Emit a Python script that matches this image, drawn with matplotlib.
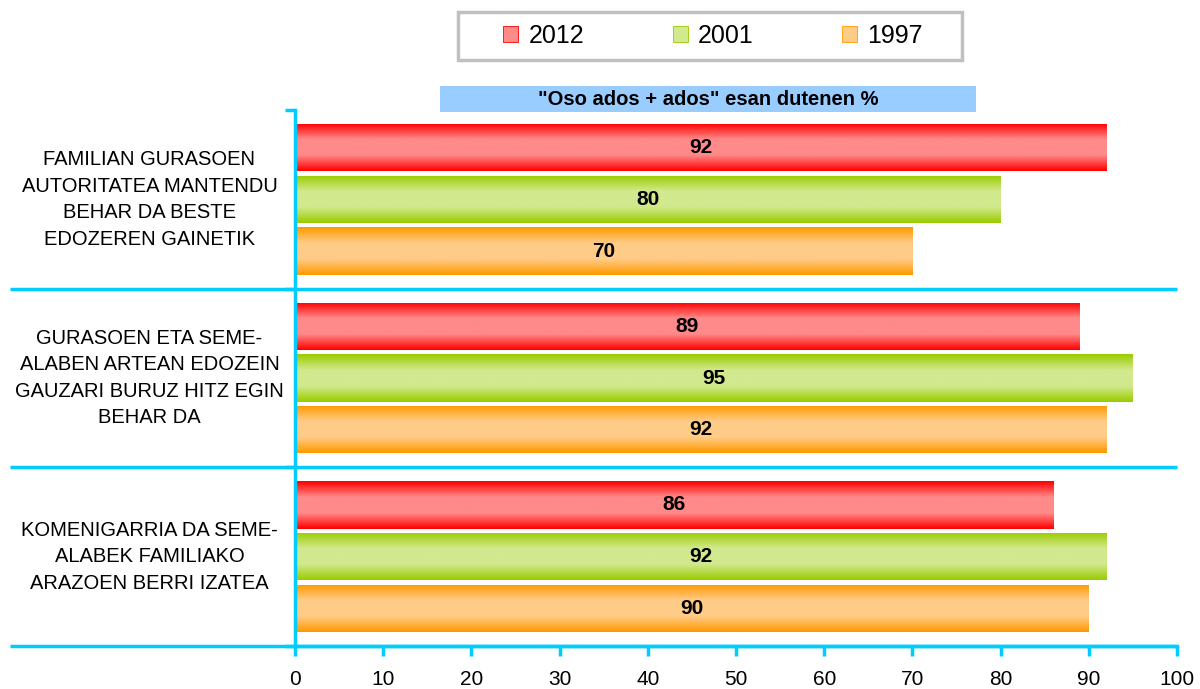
import numpy as np
import matplotlib
matplotlib.use('Agg')
from matplotlib import pyplot as plt
from matplotlib.patches import Patch, Rectangle
from matplotlib.colors import LinearSegmentedColormap

plt.rcParams['font.family'] = ['Liberation Sans', 'DejaVu Sans']

categories = [
    'FAMILIAN GURASOEN\nAUTORITATEA MANTENDU\nBEHAR DA BESTE\nEDOZEREN GAINETIK',
    'GURASOEN ETA SEME-\nALABEN ARTEAN EDOZEIN\nGAUZARI BURUZ HITZ EGIN\nBEHAR DA',
    'KOMENIGARRIA DA SEME-\nALABEK FAMILIAKO\nARAZOEN BERRI IZATEA',
]
years = ['2012', '2001', '1997']
values_2012 = [92, 89, 86]
values_2001 = [80, 95, 92]
values_1997 = [70, 92, 90]
series = [values_2012, values_2001, values_1997]
title_text = '"Oso ados + ados" esan dutenen %'

# edge colour, centre colour for the gradient bars
colors = [('#FF0000', '#FF8A8A'), ('#99CC00', '#D2E98E'), ('#FF9900', '#FFCC88')]
axis_color = '#00CCFF'

fig = plt.figure(figsize=(12, 6.89), dpi=100)
ax = fig.add_axes([295 / 1200, 1 - 646 / 689, 882 / 1200, 536 / 689])

y = np.arange(len(categories))
offsets = [-0.29, 0.0, 0.29]
bar_h = 0.265

for vals, off, (edge, mid), year in zip(series, offsets, colors, years):
    bars = ax.barh(y + off, vals, height=bar_h, color='none', edgecolor='none', label=year)
    cmap = LinearSegmentedColormap.from_list('g', [edge, mid, mid, edge])
    grad = np.linspace(0, 1, 100).reshape(-1, 1)
    for b, v in zip(bars, vals):
        x0, y0 = b.get_x(), b.get_y()
        w, h = b.get_width(), b.get_height()
        im = ax.imshow(grad, cmap=cmap, aspect='auto', extent=(x0, x0 + w, y0 + h, y0),
                       interpolation='bicubic', zorder=2)
        im.set_clip_path(b)
        ax.text(v / 2, y0 + h / 2, str(v), ha='center', va='center',
                fontsize=15, fontweight='bold', zorder=3)

ax.set_xlim(0, 100)
ax.set_ylim(2.5, -0.5)
ax.set_xticks(range(0, 101, 10))
ax.tick_params(axis='x', direction='out', length=7, width=2.5, color=axis_color,
               labelsize=15, pad=10)
ax.set_yticks([-0.5, 0.5, 1.5, 2.5])
ax.set_yticklabels([])
ax.tick_params(axis='y', direction='out', length=7, width=2.5, color=axis_color)

for s in ['top', 'right']:
    ax.spines[s].set_visible(False)
for s in ['left', 'bottom']:
    ax.spines[s].set_color(axis_color)
    ax.spines[s].set_linewidth(2.5)
ax.spines['left'].set_zorder(4)

# long category separators
trans = ax.get_yaxis_transform()
for yy in [0.5, 1.5, 2.5]:
    ax.plot([-0.323, 1.0], [yy, yy], transform=trans, color=axis_color, lw=2.5,
            clip_on=False, zorder=1, solid_capstyle='butt')

for i, lab in enumerate(categories):
    ax.text(-0.165, i, lab, transform=trans, ha='center', va='center',
            fontsize=14.5, linespacing=1.5)

# title box
xtrans = ax.get_xaxis_transform()
ax.add_patch(Rectangle((16.4, 1.0 - 2 / 536), 60.8, 26 / 536, transform=xtrans,
                       facecolor='#99CCFF', edgecolor='none', clip_on=False, zorder=1))
ax.text(46.8, 1.0 + 11 / 536, title_text, transform=xtrans,
        ha='center', va='center', fontsize=14.5, fontweight='bold')

# legend
fig.patches.append(Rectangle((458 / 1200, 1 - 60 / 689), 504 / 1200, 48 / 689,
                             transform=fig.transFigure, facecolor='white',
                             edgecolor='#C0C0C0', linewidth=2.5))
handles = [Patch(facecolor=mid, edgecolor=edge, linewidth=0.6) for edge, mid in colors]
leg = fig.legend(handles, years, ncol=3, loc='center',
                 bbox_to_anchor=(713 / 1200, 1 - 36 / 689),
                 fontsize=18, frameon=False,
                 handlelength=0.6, handleheight=0.6, handletextpad=0.4,
                 columnspacing=3.55)

fig.savefig('out.png', dpi=100)
